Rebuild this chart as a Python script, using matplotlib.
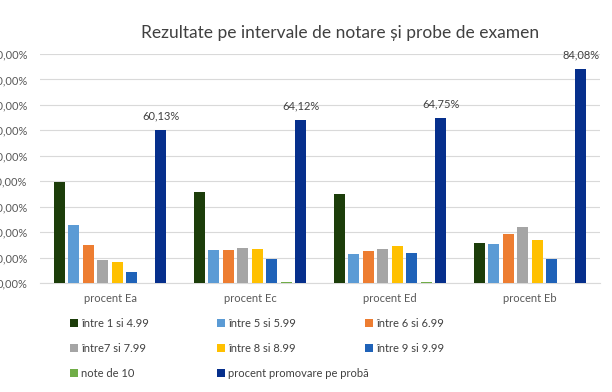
import matplotlib
matplotlib.use("Agg")
import matplotlib.pyplot as plt
import numpy as np
from matplotlib.patches import Patch
from matplotlib.ticker import FuncFormatter

plt.rcParams['font.family'] = ['Lato', 'DejaVu Sans']

categories = ["procent Ea", "procent Ec", "procent Ed", "procent Eb"]
series_names = ["între 1 si 4.99", "între 5 si 5.99", "între 6 si 6.99",
                "între7 si 7.99", "între 8 si 8.99", "între 9 si 9.99",
                "note de 10", "procent promovare pe probă"]
s1 = [39.6, 35.7, 35.0, 15.8]
s2 = [22.7, 13.0, 11.4, 15.4]
s3 = [14.9, 13.0, 12.5, 19.3]
s4 = [9.0, 13.8, 13.2, 22.1]
s5 = [8.2, 13.2, 14.4, 16.9]
s6 = [4.3, 9.5, 11.8, 9.5]
s7 = [0.1, 0.5, 0.4, 0.1]
s8 = [60.13, 64.12, 64.75, 84.08]
series = [s1, s2, s3, s4, s5, s6, s7, s8]
colors = ["#1C3D0A", "#5B9BD5", "#ED7D31", "#A5A5A5", "#FFC000",
          "#1F62B8", "#70AD47", "#062F8C"]
yticks = [0, 10, 20, 30, 40, 50, 60, 70, 80, 90]

fig = plt.figure(figsize=(6.12, 3.92), dpi=100)
ax = fig.add_axes([40/612, (392-283)/392, 560/612, (283-54)/392])

x = np.arange(len(categories))
slot = 14.5/140
bw = 11/140
txt = "#595959"
bars = []
for i, (vals, c) in enumerate(zip(series, colors)):
    b = ax.bar(x + (i-3.5)*slot, vals, width=bw, color=c, zorder=3)
    bars.append(b)

for rect, v in zip(bars[-1], s8):
    ax.annotate(f"{v:.2f}%".replace(".", ","),
                (rect.get_x()+rect.get_width()/2, rect.get_height()),
                xytext=(0, 6), textcoords="offset points",
                ha="center", va="bottom", fontsize=8, color="#404040")

ax.set_xlim(-0.5, 3.5)
ax.set_ylim(0, 90)
ax.set_yticks(yticks)
ax.yaxis.set_major_formatter(FuncFormatter(lambda v, p: f"{v:.2f}%".replace(".", ",")))
ax.set_xticks(x)
ax.set_xticklabels(categories)
ax.tick_params(axis='both', length=0, labelsize=8, labelcolor=txt)
ax.tick_params(axis='y', pad=9)
ax.tick_params(axis='x', pad=7)
ax.grid(axis='y', color="#D9D9D9", linewidth=0.8, zorder=0)
for s in ["top", "right", "left"]:
    ax.spines[s].set_visible(False)
ax.spines["bottom"].set_color("#D9D9D9")

fig.text(340/612, 1-33/392, "Rezultate pe intervale de notare și probe de examen",
         ha="center", va="center", fontsize=12.5, color="#404040")

handles = [Patch(facecolor=c, edgecolor='none') for c in colors]
cols = [[0, 3, 6], [1, 4, 7], [2, 5]]
col_x = [70, 217, 365]
for cx, idxs in zip(col_x, cols):
    leg = fig.legend([handles[k] for k in idxs], [series_names[k] for k in idxs],
                     loc="upper left", bbox_to_anchor=(cx/612, 1-318/392),
                     frameon=False, fontsize=8, handlelength=0.7, handleheight=0.7,
                     handletextpad=0.3, labelspacing=1.25, borderpad=0, borderaxespad=0)
    for t in leg.get_texts():
        t.set_color("#404040")

fig.savefig("out.png", dpi=100, facecolor="white")
